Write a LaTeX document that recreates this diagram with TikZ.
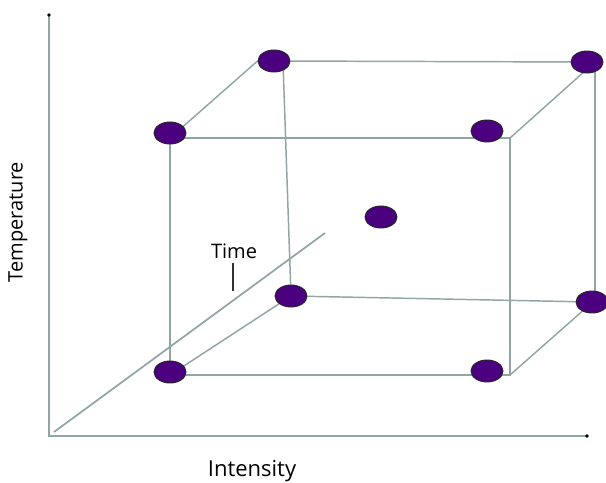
\documentclass[tikz,border=0pt]{standalone}
\usepackage{fontspec}
\setmainfont{Open Sans}
\usetikzlibrary{shapes.geometric,backgrounds}
\definecolor{edgegrey}{RGB}{145,165,165}
\definecolor{dotpurple}{RGB}{75,0,128}

\begin{document}
\begin{tikzpicture}[
  x=0.75pt, y=-0.75pt,
  dot/.style={ellipse, draw=black!85, fill=dotpurple, line width=0.7pt,
              minimum width=24pt, minimum height=16.5pt, inner sep=0pt},
  edge/.style={draw=edgegrey, line width=1.1pt},
  axis/.style={draw=edgegrey, line width=1.3pt},
  lbl/.style={font=\fontsize{15}{18}\selectfont, inner sep=0pt}
]
\useasboundingbox (0,0) rectangle (606,482);

% axes
\coordinate (origin) at (49,436);
\coordinate (ytip) at (49,15);
\coordinate (xtip) at (587,436);
\coordinate (tstart) at (54,432);
\coordinate (ttip) at (325,233);
\draw[axis] (ytip) -- (origin) -- (xtip);
\draw[axis] (tstart) -- (ttip);
\fill (ytip) circle (1.4pt);
\fill (xtip) circle (1.4pt);

\node[lbl, rotate=90] (templbl) at (18,222) {Temperature};
\node[lbl, font=\fontsize{16.5}{19}\selectfont] (intlbl) at (252,471) {Intensity};
\node[lbl] (timelbl) at (234,251) {Time};
\coordinate (tickend) at (233,291);
\draw[line width=1pt, black!80, shorten <=3pt] (timelbl.south -| tickend) -- (tickend);

% cube corners without a dot on them
\coordinate (fTR) at (510,138);
\coordinate (fBR) at (510,375);
\coordinate (bTR) at (595,62);
\coordinate (bBR) at (595,300);
\coordinate (bTL) at (283,62);

% dots
\node[dot] (ftl) at (170,133) {};
\node[dot] (ftr) at (487,131) {};
\node[dot] (fbr) at (487,371) {};
\node[dot] (fbl) at (170,372) {};
\node[dot] (btl) at (274,61) {};
\node[dot] (btr) at (587,62) {};
\node[dot] (bbr) at (592,302) {};
\node[dot] (bbl) at (291,296) {};
\node[dot] (mid) at (381,217) {};

\begin{scope}[on background layer]
  % front face
  \draw[edge] (ftl |- fTR) -- (fTR) -- (fBR) -- (fbl |- fBR);
  \draw[edge] (ftl) -- (fbl);
  % back face
  \draw[edge] (btl) -- (btr);
  \draw[edge] (bTR) -- (bBR);
  \draw[edge] (bbl) -- (bbr);
  \draw[edge] (bTL) -- (bbl);
  % depth edges
  \draw[edge] (ftl |- fTR) -- (btl.west);
  \draw[edge] (fTR) -- (bTR);
  \draw[edge] (fBR) -- (bBR);
  \draw[edge] (fbl |- fBR) -- (bbl);
\end{scope}
\end{tikzpicture}
\end{document}
